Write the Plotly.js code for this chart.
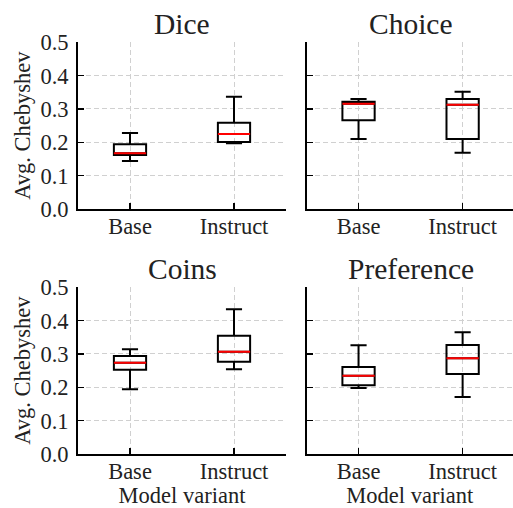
<!DOCTYPE html>
<html>
<head>
<meta charset="utf-8">
<script src="https://cdn.plot.ly/plotly-3.0.1.min.js"></script>
<style>html,body{margin:0;padding:0;background:#fff;}#chart{width:513px;height:508px;}</style>
</head>
<body>
<div id="chart"></div>
<script>
// Data
const panels = ["Dice", "Choice", "Coins", "Preference"];
const variants = ["Base", "Instruct"];
const positions = [1, 2];
// per panel: [Base, Instruct]
const lowerWhisker = {Dice: [0.144, 0.197], Choice: [0.210, 0.169], Coins: [0.194, 0.254], Preference: [0.198, 0.171]};
const q1Vals       = {Dice: [0.162, 0.201], Choice: [0.266, 0.210], Coins: [0.253, 0.277], Preference: [0.206, 0.240]};
const medianVals   = {Dice: [0.167, 0.225], Choice: [0.316, 0.313], Coins: [0.274, 0.307], Preference: [0.235, 0.287]};
const q3Vals       = {Dice: [0.194, 0.259], Choice: [0.322, 0.330], Coins: [0.294, 0.355], Preference: [0.261, 0.327]};
const upperWhisker = {Dice: [0.228, 0.337], Choice: [0.330, 0.352], Coins: [0.314, 0.434], Preference: [0.326, 0.365]};
const yTicks = [0, 0.1, 0.2, 0.3, 0.4, 0.5];
const yTitle = "Avg. Chebyshev";
const xTitle = "Model variant";

const W = 513, H = 508;
const FONT = "Liberation Serif";
const FS = 22.5;
const boxWidth = 0.31;

const xDom = [[78/W, 286/W], [306.5/W, 1]];
const xRanges = [[0.5, 2.5], [0.5, 2.484]];
const yDom = [[(H-209)/H, (H-42.3)/H], [(H-454)/H, (H-287.3)/H]];
const titleX = [182/W, 410.6/W];

const traces = [];
const layout = {
  width: W, height: H,
  margin: {l: 0, r: 0, t: 0, b: 0},
  paper_bgcolor: "#fff", plot_bgcolor: "#fff",
  showlegend: false,
  boxmode: "overlay",
  annotations: []
};

panels.forEach((name, i) => {
  const col = i % 2, row = Math.floor(i / 2);
  const ax = i === 0 ? "" : String(i + 1);
  const xa = "x" + ax, ya = "y" + ax;
  traces.push({
    type: "box", xaxis: xa, yaxis: ya,
    x: positions,
    q1: q1Vals[name], median: medianVals[name], q3: q3Vals[name],
    lowerfence: lowerWhisker[name], upperfence: upperWhisker[name],
    width: boxWidth, whiskerwidth: 0.5,
    line: {color: "#000", width: 2},
    fillcolor: "rgba(0,0,0,0)",
    boxpoints: false, hoverinfo: "skip"
  });
  traces.push({
    type: "box", xaxis: xa, yaxis: ya,
    x: positions,
    q1: medianVals[name], median: medianVals[name], q3: medianVals[name],
    lowerfence: medianVals[name], upperfence: medianVals[name],
    width: boxWidth, whiskerwidth: 0,
    line: {color: "#ff0000", width: 2},
    fillcolor: "rgba(0,0,0,0)",
    boxpoints: false, hoverinfo: "skip"
  });
  layout["xaxis" + ax] = {
    domain: xDom[col], range: xRanges[col], anchor: ya,
    tickvals: positions, ticktext: variants,
    ticklabelstandoff: -4,
    ticks: "inside", ticklen: 6, tickwidth: 1.5, tickcolor: "#000",
    showline: true, linecolor: "#000", linewidth: 2,
    showgrid: true, gridcolor: "#d0d0d0", gridwidth: 1, griddash: "5px,3px",
    zeroline: false, fixedrange: true,
    tickfont: {family: FONT, size: FS, color: "#222"},
    title: row === 1 ? {text: xTitle, font: {family: FONT, size: FS, color: "#222"}, standoff: 10} : {text: ""}
  };
  layout["yaxis" + ax] = {
    domain: yDom[row], range: [0, 0.5], anchor: xa,
    tickvals: yTicks, tickformat: ".1f",
    showticklabels: col === 0,
    ticklabelstandoff: 3,
    ticks: "inside", ticklen: 6, tickwidth: 1.5, tickcolor: "#000",
    showline: true, linecolor: "#000", linewidth: 2,
    showgrid: true, gridcolor: "#d0d0d0", gridwidth: 1, griddash: "5px,3px",
    zeroline: false, fixedrange: true,
    tickfont: {family: FONT, size: FS, color: "#222"},
    title: col === 0 ? {text: yTitle, font: {family: FONT, size: FS, color: "#222"}, standoff: 3} : {text: ""}
  };
  layout.annotations.push({
    text: name, xref: "paper", yref: "paper",
    x: titleX[col], y: yDom[row][1], xanchor: "center", yanchor: "bottom", yshift: 0,
    showarrow: false,
    font: {family: FONT, size: 29.5, color: "#222"}
  });
});

Plotly.newPlot("chart", traces, layout, {staticPlot: true, displayModeBar: false});
</script>
</body>
</html>
